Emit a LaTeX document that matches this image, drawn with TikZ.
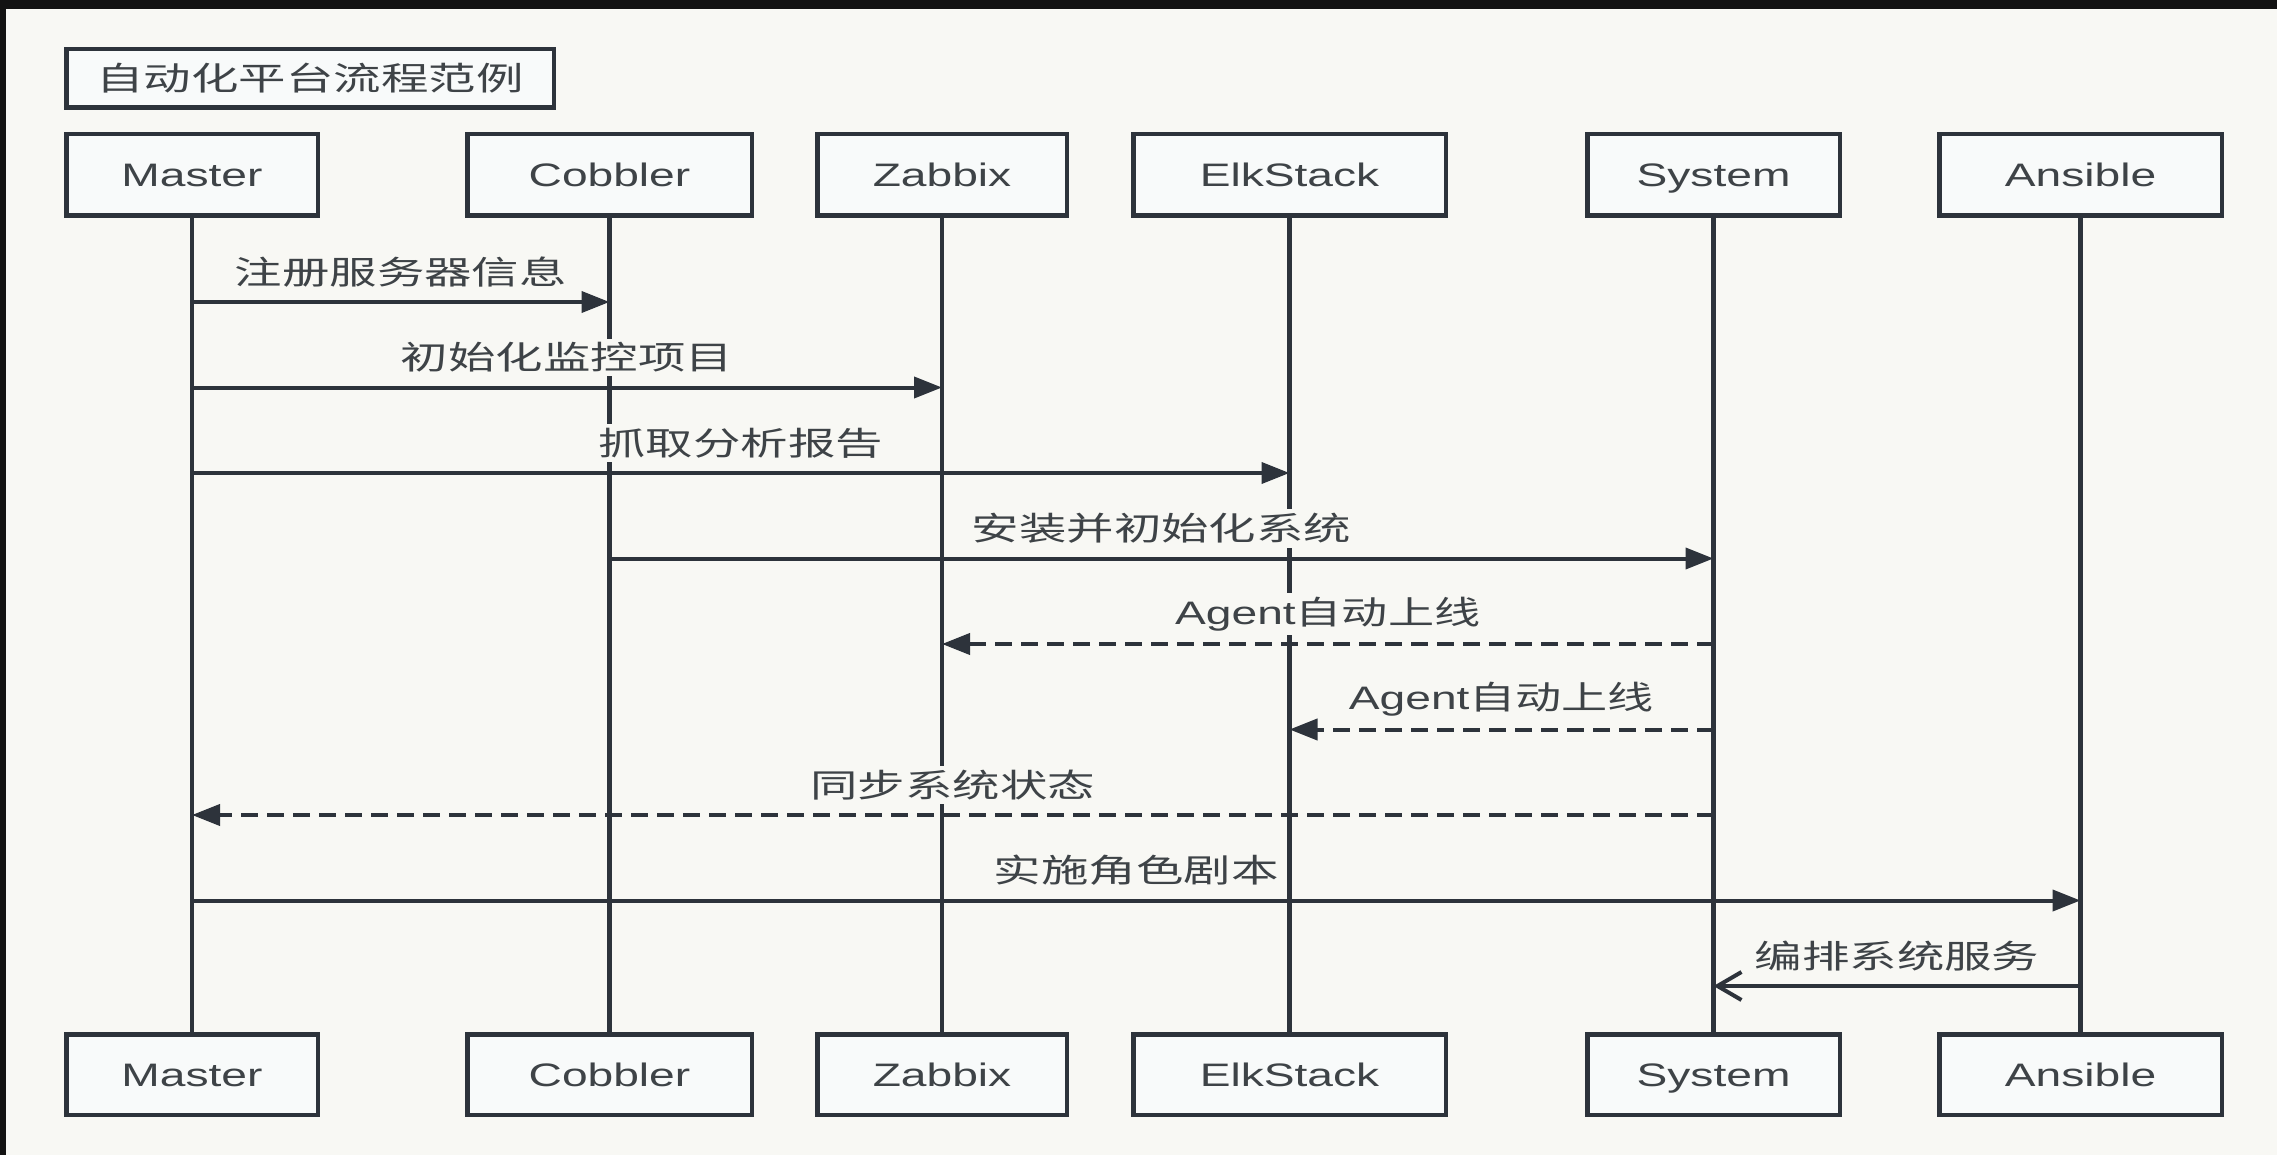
\documentclass[tikz,border=0pt]{standalone}
\usepackage{graphicx}
\usepackage{fontspec}
\setmainfont{Liberation Sans}
\newfontfamily\cjk{Noto Sans CJK SC}
\usetikzlibrary{arrows.meta}
\definecolor{bgc}{HTML}{F8F8F4}
\definecolor{boxc}{HTML}{F8FAFA}
\definecolor{linec}{HTML}{2D333B}
\definecolor{txtc}{HTML}{3E4347}
\definecolor{framec}{HTML}{121212}
\newcommand{\sx}[1]{\scalebox{1.42}[1]{#1}}
\newcommand{\sxc}[1]{\scalebox{1.46}[1]{\cjk #1}}
\tikzset{
  actor/.style={draw=linec, line width=4.5pt, fill=boxc, text=txtc,
    font=\fontsize{32.5}{38}\selectfont, minimum height=81.5pt, inner sep=0pt,
    text height=26.5pt, text depth=3.5pt},
  titlebox/.style={draw=linec, line width=4.5pt, fill=boxc, text=txtc,
    font=\fontsize{32.5}{38}\selectfont, minimum width=487.5pt, minimum height=58.5pt, inner sep=0pt},
  life/.style={draw=linec, line width=4.5pt},
  msg/.style={draw=linec, line width=4pt, -{Triangle[length=28pt,width=21pt]}},
  rmsg/.style={msg, dash pattern=on 17pt off 9pt},
  omsg/.style={draw=linec, line width=4pt, -{Straight Barb[length=24pt,width=28pt,line width=4pt]}},
  lbl/.style={fill=bgc, text=txtc, inner xsep=2pt, inner ysep=4pt,
    font=\fontsize{32.5}{38}\selectfont, yshift=30pt}
}
\begin{document}
\begin{tikzpicture}[x=1pt,y=-1pt]
\fill[bgc] (0,0) rectangle (2277,1155);
\useasboundingbox (0,0) rectangle (2277,1155);
\fill[framec] (0,0) rectangle (2277,9);
\fill[framec] (0,0) rectangle (6,1155);

\node[titlebox] (title) at (310,78.5) {\sxc{自动化平台流程范例}};

% top actors
\node[actor, minimum width=251.5pt] (m1) at (192,175) {\sx{Master}};
\node[actor, minimum width=284.5pt] (c1) at (609.5,175) {\sx{Cobbler}};
\node[actor, minimum width=249.5pt] (z1) at (942,175) {\sx{Zabbix}};
\node[actor, minimum width=312.5pt] (e1) at (1289.5,175) {\sx{ElkStack}};
\node[actor, minimum width=252.5pt] (s1) at (1713.5,175) {\sx{System}};
\node[actor, minimum width=282.5pt] (a1) at (2080.5,175) {\sx{Ansible}};
% bottom actors
\node[actor, minimum width=251.5pt, minimum height=80.5pt] (m2) at (192,1074.5) {\sx{Master}};
\node[actor, minimum width=284.5pt, minimum height=80.5pt] (c2) at (609.5,1074.5) {\sx{Cobbler}};
\node[actor, minimum width=249.5pt, minimum height=80.5pt] (z2) at (942,1074.5) {\sx{Zabbix}};
\node[actor, minimum width=312.5pt, minimum height=80.5pt] (e2) at (1289.5,1074.5) {\sx{ElkStack}};
\node[actor, minimum width=252.5pt, minimum height=80.5pt] (s2) at (1713.5,1074.5) {\sx{System}};
\node[actor, minimum width=282.5pt, minimum height=80.5pt] (a2) at (2080.5,1074.5) {\sx{Ansible}};

% lifelines
\draw[life] (m1.south) -- (m2.north);
\draw[life] (c1.south) -- (c2.north);
\draw[life] (z1.south) -- (z2.north);
\draw[life] (e1.south) -- (e2.north);
\draw[life] (s1.south) -- (s2.north);
\draw[life] (a1.south) -- (a2.north);

% message rows
\coordinate (y1) at (0,302);
\coordinate (y2) at (0,387.5);
\coordinate (y3) at (0,473);
\coordinate (y4) at (0,558.5);
\coordinate (y5) at (0,644);
\coordinate (y6) at (0,729.5);
\coordinate (y7) at (0,815);
\coordinate (y8) at (0,900.5);
\coordinate (y9) at (0,986);

\draw[msg] (m1 |- y1) -- node[lbl] {\sxc{注册服务器信息}} (c1 |- y1);
\draw[msg] (m1 |- y2) -- node[lbl] {\sxc{初始化监控项目}} (z1 |- y2);
\draw[msg] (m1 |- y3) -- node[lbl] {\sxc{抓取分析报告}} (e1 |- y3);
\draw[msg] (c1 |- y4) -- node[lbl] {\sxc{安装并初始化系统}} (s1 |- y4);
\draw[rmsg] (s1 |- y5) -- node[lbl] {\sx{Agent{\cjk 自动上线}}} (z1 |- y5);
\draw[rmsg] (s1 |- y6) -- node[lbl] {\sx{Agent{\cjk 自动上线}}} (e1 |- y6);
\draw[rmsg] (s1 |- y7) -- node[lbl] {\sxc{同步系统状态}} (m1 |- y7);
\draw[msg] (m1 |- y8) -- node[lbl] {\sxc{实施角色剧本}} (a1 |- y8);
\draw[omsg] (a1 |- y9) -- node[lbl] {\sxc{编排系统服务}} (s1 |- y9);
\end{tikzpicture}
\end{document}
